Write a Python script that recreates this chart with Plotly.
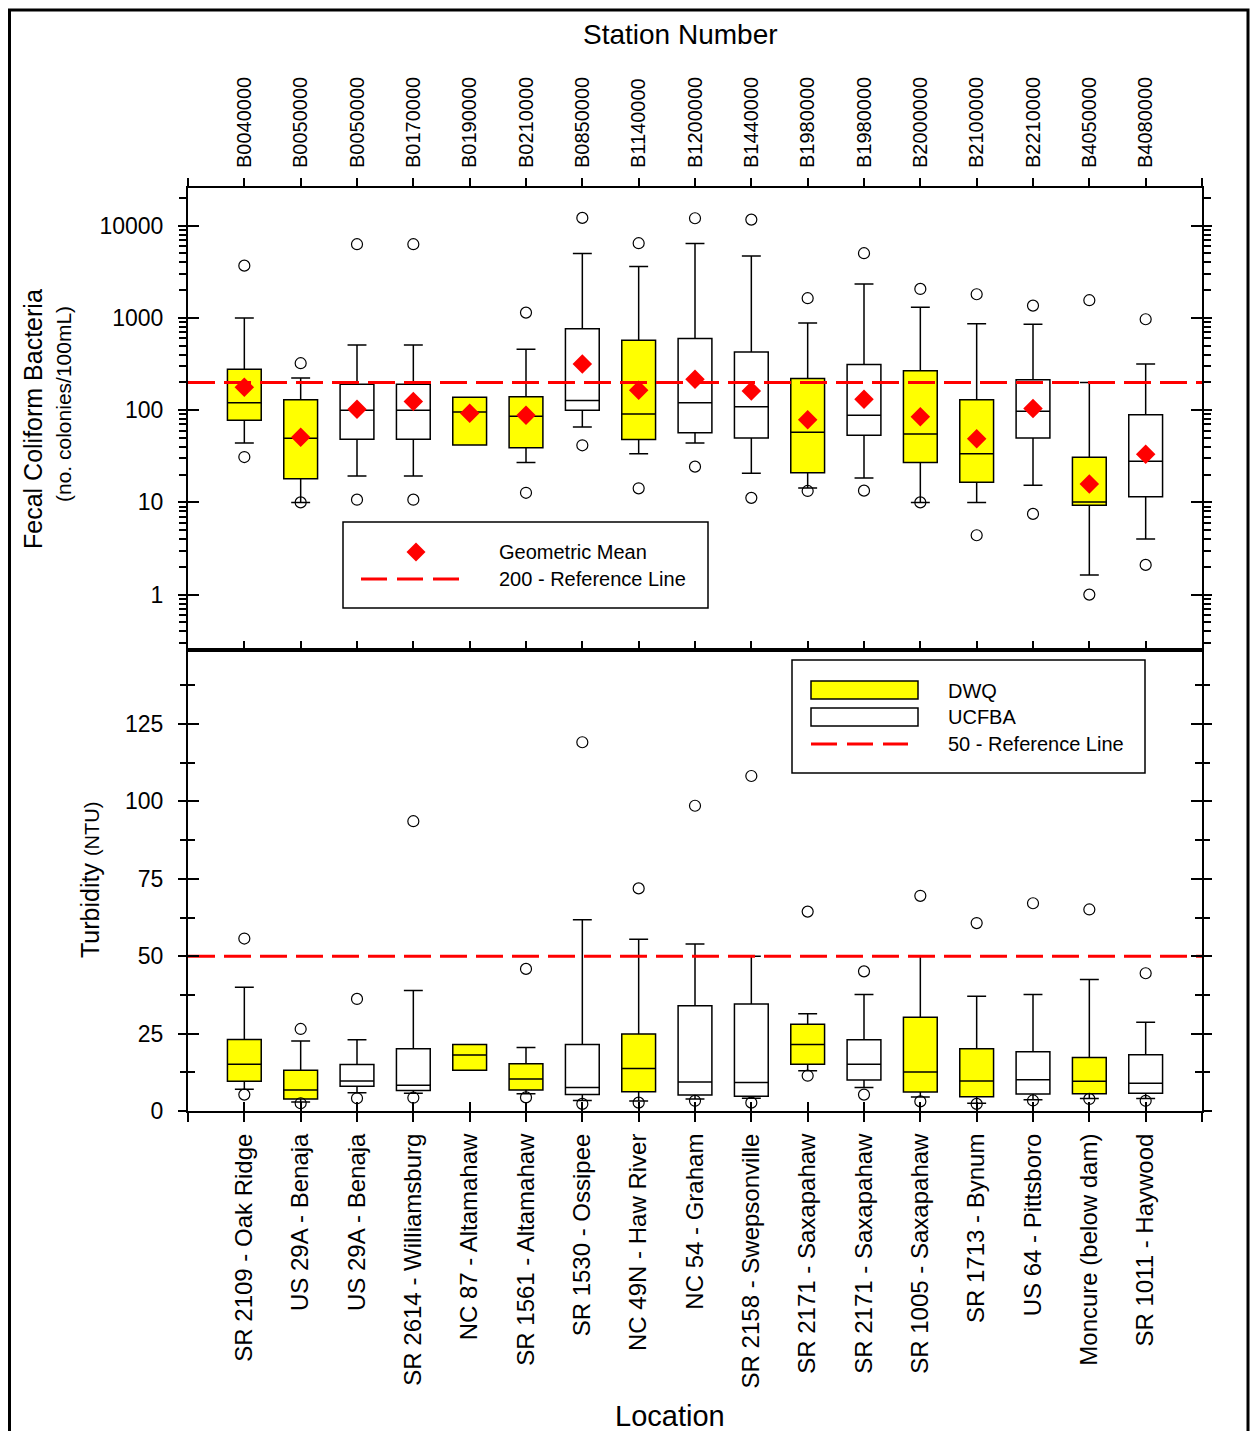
import plotly.graph_objects as go

# ---------------- data ----------------
stations = ["B0040000", "B0050000", "B0050000", "B0170000", "B0190000", "B0210000",
            "B0850000", "B1140000", "B1200000", "B1440000", "B1980000", "B1980000",
            "B2000000", "B2100000", "B2210000", "B4050000", "B4080000"]
locations = ["SR 2109 - Oak Ridge", "US 29A - Benaja", "US 29A - Benaja",
             "SR 2614 - Williamsburg", "NC 87 - Altamahaw", "SR 1561 - Altamahaw",
             "SR 1530 - Ossipee", "NC 49N - Haw River", "NC 54 - Graham",
             "SR 2158 - Swepsonville", "SR 2171 - Saxapahaw", "SR 2171 - Saxapahaw",
             "SR 1005 - Saxapahaw", "SR 1713 - Bynum", "US 64 - Pittsboro",
             "Moncure (below dam)", "SR 1011 - Haywood"]
agency = ["DWQ", "DWQ", "UCFBA", "UCFBA", "DWQ", "DWQ", "UCFBA", "DWQ", "UCFBA",
          "UCFBA", "DWQ", "UCFBA", "DWQ", "DWQ", "UCFBA", "DWQ", "UCFBA"]

# Fecal coliform (no. colonies/100mL)
fc_min = [31, 10, 10.7, 10.7, None, 12.7, 41.6, 14.2, 24.4, 11.2, 13.3, 13.4, 10, 4.4, 7.5, 1.0, 2.1]
fc_lw = [44, 10, 19.3, 19.3, 42, 27, 65.7, 33.7, 44, 20.7, 14.3, 18.4, 10, 10, 15.3, 1.63, 4.0]
fc_q1 = [77.7, 18, 48.3, 48.3, 42, 39, 99.8, 48, 57, 50, 21, 53.4, 27, 16.5, 50, 9.3, 11.5]
fc_med = [120, 49.6, 100, 100, 95.6, 85.9, 127, 91, 120, 109, 57.6, 88, 55, 33.7, 97, 10.1, 27.9]
fc_q3 = [278, 130, 191, 191, 138, 140, 765, 573, 597, 428, 220, 312, 268, 130, 214, 30.8, 89]
fc_uw = [1000, 223, 510, 510, 138, 457, 4990, 3600, 6400, 4700, 883, 2340, 1306, 867, 854, 200, 317]
fc_max = [3690, 323, 6300, 6300, None, 1142, 12150, 6460, 12050, 11640, 1636, 5030, 2063, 1807, 1360, 1556, 968]
fc_gmean = [177, 50.8, 102, 124, 92.5, 88, 317, 164, 216, 161, 78.9, 131, 85, 49, 104, 15.8, 33.2]
fc_ref = 200

# Turbidity (NTU)
tb_min = [5.3, 2.5, 4.1, 4.3, None, 4.4, 2.3, 2.7, 3.3, 2.7, 11.4, 5.3, 3.1, 2.3, 3.4, 3.9, 3.3]
tb_lw = [7.0, 2.9, 5.9, 5.7, 13.2, 5.6, 3.4, 3.2, 3.9, 4.1, 13.0, 7.6, 4.5, 2.5, 3.6, 4.0, 4.0]
tb_q1 = [9.6, 3.9, 8.0, 6.6, 13.2, 6.8, 5.3, 6.2, 5.2, 4.8, 15.1, 10.0, 6.1, 4.6, 5.5, 5.6, 5.7]
tb_med = [15.1, 6.8, 9.7, 8.3, 18.1, 10.3, 7.6, 13.7, 9.4, 9.2, 21.5, 15.1, 12.6, 9.7, 10.1, 9.6, 9.0]
tb_q3 = [23.1, 13.2, 15.0, 20.1, 21.5, 15.3, 21.5, 24.9, 34.0, 34.6, 28.0, 23.0, 30.3, 20.1, 19.1, 17.3, 18.2]
tb_uw = [40.0, 22.6, 23.0, 38.9, 21.5, 20.5, 61.8, 55.5, 53.9, 50.0, 31.4, 37.6, 50.0, 37.1, 37.6, 42.5, 28.7]
tb_max = [55.7, 26.5, 36.2, 93.6, None, 45.9, 119.1, 71.9, 98.6, 108.2, 64.4, 45.1, 69.5, 60.7, 67.1, 65.1, 44.5]
tb_ref = 50

fc_tickvals = [1, 10, 100, 1000, 10000]
fc_ticktext = ["1", "10", "100", "1000", "10000"]
tb_tickvals = [0, 25, 50, 75, 100, 125]
tb_ticktext = ["0", "25", "50", "75", "100", "125"]

colors = {"DWQ": "#FFFF00", "UCFBA": "#FFFFFF"}

# ---------------- layout geometry ----------------
# page is offset by the 8px default body margin, so figure coords = page coords - 8
OFF = 8
W, H = 1258 - OFF, 1439 - 2 * OFF
PL, PT, PR, PB = 188 - OFF, 188 - OFF, 1202 - OFF, 1111 - OFF
SPLIT = 650 - OFF


def px(x):
    """page x (reference pixels) -> paper coordinate"""
    return (x - OFF - PL) / (PR - PL)


def py(y):
    """page y (reference pixels) -> paper coordinate"""
    return (PB - (y - OFF)) / (PB - PT)


FONT = "Liberation Sans, Arial, sans-serif"
n = len(stations)
pos = list(range(n))
xrng = [-1, n]
xticks = list(range(-1, n + 1))

fig = go.Figure()


def add_panel(xa, ya, lw, q1, med, q3, uw, lo, hi, ref, gmean=None):
    for ag in ["DWQ", "UCFBA"]:
        idx = [i for i in pos if agency[i] == ag]
        fig.add_trace(go.Box(
            x=idx, q1=[q1[i] for i in idx], median=[med[i] for i in idx],
            q3=[q3[i] for i in idx], lowerfence=[lw[i] for i in idx],
            upperfence=[uw[i] for i in idx], width=0.6, whiskerwidth=0.56,
            fillcolor=colors[ag], line=dict(color="black", width=1.5),
            boxpoints=False, xaxis=xa, yaxis=ya, showlegend=False, hoverinfo="skip"))
    fig.add_trace(go.Scatter(
        x=xrng, y=[ref, ref], mode="lines", xaxis=xa, yaxis=ya,
        line=dict(color="#FF0000", width=3, dash="27px,9px"), showlegend=False,
        hoverinfo="skip"))
    ox = [i for i in pos if lo[i] is not None] + [i for i in pos if hi[i] is not None]
    oy = [lo[i] for i in pos if lo[i] is not None] + [hi[i] for i in pos if hi[i] is not None]
    fig.add_trace(go.Scatter(
        x=ox, y=oy, mode="markers", xaxis=xa, yaxis=ya,
        marker=dict(symbol="circle-open", size=11, color="black", line=dict(width=1.2)),
        showlegend=False, hoverinfo="skip"))
    if gmean is not None:
        fig.add_trace(go.Scatter(
            x=pos, y=gmean, mode="markers", xaxis=xa, yaxis=ya,
            marker=dict(symbol="diamond", size=15, color="#FF0000", line=dict(width=0)),
            showlegend=False, hoverinfo="skip"))


add_panel("x", "y", fc_lw, fc_q1, fc_med, fc_q3, fc_uw, fc_min, fc_max, fc_ref, fc_gmean)
add_panel("x2", "y2", tb_lw, tb_q1, tb_med, tb_q3, tb_uw, tb_min, tb_max, tb_ref)

# empty traces so overlay axes are drawn
for xa, ya in [("x", "y3"), ("x3", "y"), ("x2", "y4"), ("x4", "y2")]:
    fig.add_trace(go.Scatter(x=[None], y=[None], xaxis=xa, yaxis=ya,
                             showlegend=False, hoverinfo="skip"))

split = (PB - SPLIT) / (PB - PT)
fc_range = [-0.6007, 4.4088]
tb_range = [0, 148.9]
fc_minor = [m * 10 ** k for k in range(-1, 5) for m in range(2, 10)]
tb_minor = [12.5 + 25 * k for k in range(6)]

common_ax = dict(showgrid=False, zeroline=False, automargin=False,
                 linecolor="black", tickcolor="black", fixedrange=True)

fig.update_layout(
    width=W, height=H, template="none",
    margin=dict(l=PL, r=W - PR, t=PT, b=H - PB, pad=0),
    paper_bgcolor="white", plot_bgcolor="rgba(0,0,0,0)",
    font=dict(family=FONT, size=20, color="black"),
    showlegend=False, boxmode="overlay",
    # top panel x (station numbers on top)
    xaxis=dict(**common_ax, domain=[0, 1], anchor="y", side="top", range=xrng,
               tickmode="array", tickvals=xticks, ticktext=[""] + stations + [""],
               tickangle=-90, tickfont=dict(size=20, family=FONT),
               ticks="outside", ticklen=8, tickwidth=2, showline=True, linewidth=2,
               mirror=False, ticklabelstandoff=6),
    xaxis3=dict(**common_ax, overlaying="x", anchor="y", side="bottom", range=xrng,
                tickmode="array", tickvals=xticks, showticklabels=False,
                ticks="inside", ticklen=9, tickwidth=2, showline=True, linewidth=2),
    # bottom panel x (locations)
    xaxis2=dict(**common_ax, domain=[0, 1], anchor="y2", side="bottom", range=xrng,
                tickmode="array", tickvals=xticks, ticktext=[""] + locations + [""],
                tickangle=-90, tickfont=dict(size=24, family=FONT),
                ticks="outside", ticklen=9, tickwidth=2, showline=True, linewidth=2,
                mirror=True, ticklabelstandoff=2),
    xaxis4=dict(**common_ax, overlaying="x2", anchor="y2", side="bottom", range=xrng,
                tickmode="array", tickvals=xticks, showticklabels=False,
                ticks="inside", ticklen=9, tickwidth=2, showline=False),
    # top panel y (log)
    yaxis=dict(**common_ax, domain=[split, 1], anchor="x", type="log", range=fc_range,
               tickmode="array", tickvals=fc_tickvals, ticktext=fc_ticktext,
               tickfont=dict(size=23, family=FONT), ticks="outside", ticklen=8,
               tickwidth=2, showline=True, linewidth=2, mirror="ticks",
               ticklabelstandoff=10,
               minor=dict(tickmode="array", tickvals=fc_minor, ticks="outside",
                          ticklen=7, tickwidth=1.5, tickcolor="black", showgrid=False)),
    yaxis3=dict(**common_ax, overlaying="y", anchor="x", side="left", type="log",
                range=fc_range, tickmode="array", tickvals=fc_tickvals,
                showticklabels=False, ticks="inside", ticklen=11, tickwidth=2,
                showline=False, mirror="ticks"),
    # bottom panel y (linear)
    yaxis2=dict(**common_ax, domain=[0, split], anchor="x2", range=tb_range,
                tickmode="array", tickvals=tb_tickvals, ticktext=tb_ticktext,
                tickfont=dict(size=23, family=FONT), ticks="outside", ticklen=8,
                tickwidth=2, showline=True, linewidth=2, mirror="ticks",
                ticklabelstandoff=10,
                minor=dict(tickmode="array", tickvals=tb_minor, ticks="outside",
                           ticklen=6, tickwidth=1.5, tickcolor="black", showgrid=False)),
    yaxis4=dict(**common_ax, overlaying="y2", anchor="x2", side="left", range=tb_range,
                tickmode="array", tickvals=tb_tickvals, showticklabels=False,
                ticks="inside", ticklen=11, tickwidth=2, showline=False, mirror="ticks",
                minor=dict(tickmode="array", tickvals=tb_minor, ticks="inside",
                           ticklen=7, tickwidth=1.5, tickcolor="black", showgrid=False)),
)

shapes = []
# outer frame (right edge kept inside the visible canvas)
shapes.append(dict(type="rect", xref="paper", yref="paper", x0=px(9.5), x1=px(1248),
                   y0=py(1445), y1=py(10), line=dict(color="black", width=3),
                   fillcolor="rgba(0,0,0,0)", layer="above"))
# top legend
shapes.append(dict(type="rect", xref="paper", yref="paper", x0=px(343), x1=px(708),
                   y0=py(608), y1=py(522), line=dict(color="black", width=1.5),
                   fillcolor="white", layer="above"))
cx, cy, hw = 416, 552, 9.5
shapes.append(dict(type="path", xref="paper", yref="paper",
                   path=f"M {px(cx - hw)},{py(cy)} L {px(cx)},{py(cy - hw)} "
                        f"L {px(cx + hw)},{py(cy)} L {px(cx)},{py(cy + hw)} Z",
                   fillcolor="#FF0000", line=dict(width=0), layer="above"))
shapes.append(dict(type="line", xref="paper", yref="paper", x0=px(361), x1=px(460),
                   y0=py(579), y1=py(579),
                   line=dict(color="#FF0000", width=3, dash="26px,10px"), layer="above"))
# bottom legend
shapes.append(dict(type="rect", xref="paper", yref="paper", x0=px(792), x1=px(1145),
                   y0=py(773), y1=py(660), line=dict(color="black", width=1.5),
                   fillcolor="white", layer="above"))
shapes.append(dict(type="rect", xref="paper", yref="paper", x0=px(811), x1=px(918),
                   y0=py(699), y1=py(681), line=dict(color="black", width=1.5),
                   fillcolor=colors["DWQ"], layer="above"))
shapes.append(dict(type="rect", xref="paper", yref="paper", x0=px(811), x1=px(918),
                   y0=py(726), y1=py(708), line=dict(color="black", width=1.5),
                   fillcolor=colors["UCFBA"], layer="above"))
shapes.append(dict(type="line", xref="paper", yref="paper", x0=px(811), x1=px(908),
                   y0=py(744), y1=py(744),
                   line=dict(color="#FF0000", width=3, dash="26px,10px"), layer="above"))
fig.update_layout(shapes=shapes)


def ann(text, x, y, size, xanchor="left", angle=0):
    return dict(text=text, xref="paper", yref="paper", x=px(x), y=py(y),
                xanchor=xanchor, yanchor="middle", showarrow=False, textangle=angle,
                font=dict(family=FONT, size=size, color="black"))


annotations = [
    ann("Geometric Mean", 497, 552, 20),
    ann(f"{fc_ref} - Reference Line", 497, 579, 20),
    ann("DWQ", 946, 691, 20),
    ann("UCFBA", 946, 717, 20),
    ann(f"{tb_ref} - Reference Line", 946, 744, 20),
    ann("Station Number", 680, 34, 28, xanchor="center"),
    ann("Location", 670, 1416, 29, xanchor="center"),
    ann("Fecal Coliform Bacteria", 33, 419, 25, xanchor="center", angle=-90),
    ann("(no. colonies/100mL)", 63, 404, 21, xanchor="center", angle=-90),
    ann("Turbidity <span style='font-size:20px'>(NTU)</span>", 90, 880, 25,
        xanchor="center", angle=-90),
]
fig.update_layout(annotations=annotations)

fig.write_html("out.html")
